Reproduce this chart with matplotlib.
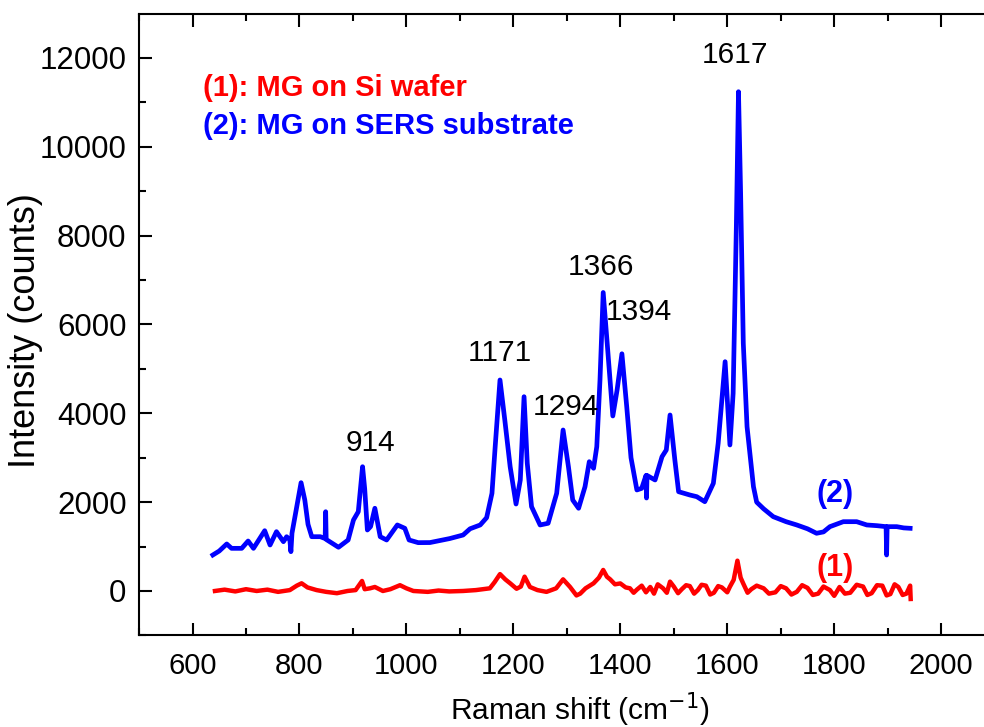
"""Raman spectra of MG on a Si wafer vs. on a SERS substrate."""
import matplotlib
matplotlib.use("Agg")
import matplotlib.pyplot as plt

# spectrum (2): MG on SERS substrate
sers_shift = [638, 650, 664, 673, 692, 704, 714, 735, 745, 757, 770, 776, 782, 784, 786,
              792, 803, 810, 816, 823, 839, 848, 849, 850, 873, 891, 901, 910, 918, 922,
              927, 933, 941, 951, 963, 983, 997, 1005, 1022, 1044, 1081, 1106, 1119, 1138,
              1150, 1160, 1166, 1175, 1184, 1194, 1205, 1213, 1220, 1226, 1234, 1250, 1265,
              1281, 1293, 1303, 1311, 1322, 1334, 1342, 1350, 1356, 1362, 1368, 1375, 1386,
              1394, 1403, 1412, 1420, 1431, 1440, 1448, 1449, 1450, 1465, 1478, 1486, 1493,
              1502, 1509, 1530, 1543, 1558, 1574, 1583, 1596, 1605, 1611, 1617, 1621, 1625,
              1630, 1637, 1649, 1655, 1668, 1686, 1710, 1730, 1750, 1767, 1780, 1792, 1817,
              1842, 1861, 1880, 1897, 1898, 1899, 1917, 1930, 1942]
sers_counts = [810, 900, 1058, 960, 960, 1125, 960, 1357, 1035, 1335, 1110, 1222, 1150, 885,
               1300, 1700, 2438, 2048, 1500, 1222, 1222, 1180, 1785, 1160, 984, 1148, 1598,
               1785, 2798, 2300, 1373, 1450, 1862, 1222, 1148, 1486, 1411, 1148, 1088, 1090,
               1180, 1260, 1400, 1486, 1650, 2199, 3248, 4750, 3849, 2798, 1958, 2499, 4374,
               2874, 1898, 1486, 1524, 2199, 3624, 2798, 2048, 1862, 2348, 2911, 2762, 3248,
               4750, 6720, 5650, 3940, 4525, 5340, 4149, 3000, 2274, 2311, 2600, 2093, 2600,
               2499, 3023, 3174, 3962, 2949, 2235, 2161, 2123, 2010, 2424, 3325, 5162, 3287,
               4450, 8201, 11240, 8953, 5576, 3699, 2348, 2000, 1850, 1673, 1560, 1486, 1400,
               1299, 1330, 1448, 1560, 1560, 1486, 1470, 1448, 810, 1448, 1448, 1420, 1411]

# spectrum (1): MG on Si wafer
si_shift = [642, 660, 680, 700, 720, 740, 760, 782, 795, 804, 815, 832, 850, 870, 890, 905,
            917, 922, 932, 941, 956, 970, 988, 1000, 1013, 1040, 1060, 1080, 1106, 1130, 1156,
            1165, 1175, 1185, 1194, 1206, 1214, 1221, 1231, 1245, 1262, 1280, 1293, 1306, 1318,
            1325, 1335, 1350, 1360, 1368, 1375, 1381, 1390, 1400, 1410, 1418, 1425, 1431, 1440,
            1448, 1456, 1463, 1470, 1480, 1487, 1493, 1500, 1508, 1515, 1523, 1530, 1538, 1545,
            1552, 1560, 1568, 1575, 1583, 1590, 1600, 1605, 1612, 1619, 1625, 1630, 1638, 1645,
            1655, 1668, 1678, 1690, 1700, 1710, 1720, 1730, 1740, 1750, 1760, 1770, 1780, 1792,
            1800, 1810, 1820, 1830, 1842, 1854, 1862, 1870, 1880, 1890, 1898, 1905, 1913, 1920,
            1928, 1935, 1942, 1943]
si_counts = [0, 30, -10, 40, 0, 30, -20, 20, 120, 173, 80, 20, -20, -50, 0, 20,
             225, 40, 60, 90, 0, 40, 130, 60, 0, -20, 10, -10, 0, 20, 60,
             200, 380, 260, 173, 50, 100, 322, 90, 20, -20, 60, 262, 90, -100,
             -60, 60, 173, 300, 473, 320, 262, 150, 170, 80, 60, -40, 30, 120,
             -30, 90, -60, 150, 60, -40, 210, 100, -50, 40, 130, 110, -60, 20,
             140, 120, -80, -40, 110, 80, -30, 97, 250, 682, 300, 165, -40, 40,
             120, 60, -60, -30, 110, 60, -80, -20, 130, 70, -90, -60, 100, 20,
             -110, 90, -60, -40, 140, 100, -90, -50, 130, 120, -100, -70, 150, 90,
             -90, -60, 120, -180]

peak_labels = ["914", "1171", "1294", "1366", "1394", "1617"]
peak_label_x = [932, 1175, 1298, 1364, 1435, 1615]
peak_label_y = [3330, 5360, 4140, 7290, 6280, 12065]

plt.rcParams["font.family"] = ["Liberation Sans", "DejaVu Sans"]

fig = plt.figure(figsize=(9.84, 7.27), dpi=100)
ax = fig.add_axes([0.1413, 0.126, 0.8695, 0.8554])

ax.plot(si_shift, si_counts, color="#ff0000", lw=3.2)
ax.plot(sers_shift, sers_counts, color="#0000ff", lw=3.4)

for txt, x, y in zip(peak_labels, peak_label_x, peak_label_y):
    ax.text(x, y, txt, ha="center", va="center", fontsize=21.5)

ax.text(1802, 2180, "(2)", color="#0000ff", fontsize=22, fontweight="bold",
        ha="center", va="center")
ax.text(1802, 520, "(1)", color="#ff0000", fontsize=22, fontweight="bold",
        ha="center", va="center")
ax.text(620, 11320, "(1): MG on Si wafer", color="#ff0000", fontsize=21,
        fontweight="bold", ha="left", va="center")
ax.text(620, 10470, "(2): MG on SERS substrate", color="#0000ff", fontsize=21,
        fontweight="bold", ha="left", va="center")

ax.set_xlim(500, 2100)
ax.set_ylim(-1000, 13000)
ax.set_xticks(range(600, 2001, 200))
ax.set_xticks(range(500, 2100, 100), minor=True)
ax.set_yticks(range(0, 12001, 2000))
ax.set_yticks(range(-1000, 13000, 1000), minor=True)
ax.tick_params(which="both", direction="in", top=True, right=False, width=1.5)
ax.tick_params(which="major", length=9)
ax.tick_params(which="minor", length=5)
ax.tick_params(axis="x", pad=12, labelsize=21)
ax.tick_params(axis="y", pad=9, labelsize=22.5)
for s in ax.spines.values():
    s.set_linewidth(1.5)
ax.spines["right"].set_visible(False)

ax.set_xlabel("Raman shift (cm$^{-1}$)", fontsize=21.5)
ax.xaxis.set_label_coords(0.515, -0.088)
ax.set_ylabel("Intensity (counts)", fontsize=26)
ax.yaxis.set_label_coords(-0.112, 0.49)

fig.savefig("out.png", dpi=100)
